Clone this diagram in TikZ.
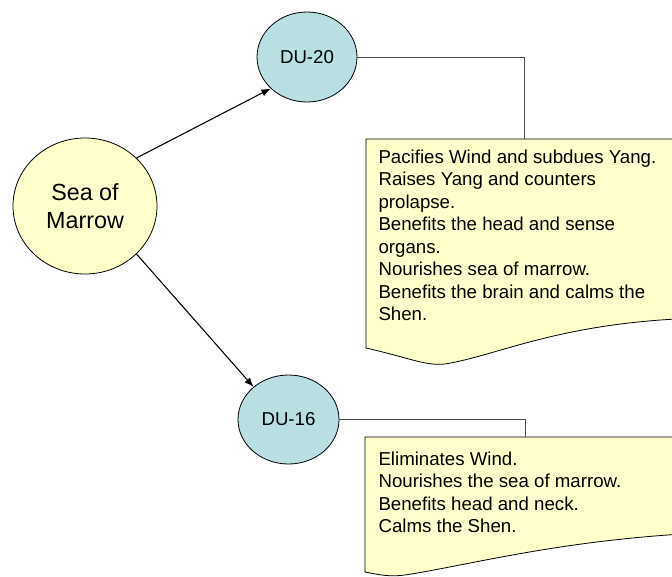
\documentclass[tikz,border=0pt]{standalone}
\usepackage{fontspec}
\setmainfont{Liberation Sans}
\usetikzlibrary{arrows.meta,shapes.geometric}

\definecolor{paleyellow}{RGB}{255,255,204}
\definecolor{palecyan}{RGB}{185,223,227}

\tikzset{
	point/.style={ellipse,draw,fill=palecyan,line width=0.6pt,inner sep=0pt,
		minimum width=75pt,minimum height=67.5pt,font=\fontsize{14}{17}\selectfont},
	sea/.style={ellipse,draw,fill=paleyellow,line width=0.6pt,inner sep=0pt,
		minimum width=108pt,minimum height=102pt,align=center,font=\fontsize{17.5}{21}\selectfont},
	notetext/.style={anchor=north west,inner sep=0pt,align=left,
		font=\fontsize{14}{16.9}\selectfont},
	notebox/.style={draw,fill=paleyellow,line width=0.6pt},
	link/.style={line width=0.6pt,color=black!70}
}

\begin{document}
\begin{tikzpicture}[x=0.75pt,y=-0.75pt,>={Latex[length=7pt,width=5.5pt]},thick]

\useasboundingbox (0,0) rectangle (672,576);
\clip (0,0) rectangle (672,576);

%\draw (0,0) grid[step=50] (672,576);

% notes
\fill[white] (0,0) rectangle (672,576);
\draw[notebox] (366,139) -- (700,139) -- (700,318)
	.. controls (560,322) and (500,355) .. (445,364)
	.. controls (425,366) and (410,358) .. (366,348) -- cycle;
\draw[notebox] (365,437) -- (700,437) -- (700,533)
	.. controls (560,540) and (470,565) .. (405,575)
	.. controls (390,577) and (380,575) .. (365,572) -- cycle;

\coordinate (note1top) at (524,139);
\coordinate (note2top) at (525,437);

\node[notetext] (note1) at (378,149) {Pacifies Wind and subdues Yang.\\
	Raises Yang and counters\\ prolapse.\\
	Benefits the head and sense\\ organs.\\
	Nourishes sea of marrow.\\
	Benefits the brain and calms the\\ Shen.};
\node[notetext] (note2) at (378,451) {Eliminates Wind.\\
	Nourishes the sea of marrow.\\
	Benefits head and neck.\\
	Calms the Shen.};

% points
\node[sea] (sea) at (85,206) {Sea of\\ Marrow};
\node[point] (du20) at (307,57) {DU-20};
\node[point,minimum width=75.75pt,minimum height=66.75pt] (du16) at (288.5,419.5) {DU-16};

\draw[->,line width=0.8pt] (sea.43) -- (du20.221);
\draw[->,line width=0.8pt] (sea.-43) -- (du16.137);

\draw[link] (du20.east) -| (note1top);
\draw[link] (du16.east) -| (note2top);

\end{tikzpicture}
\end{document}
